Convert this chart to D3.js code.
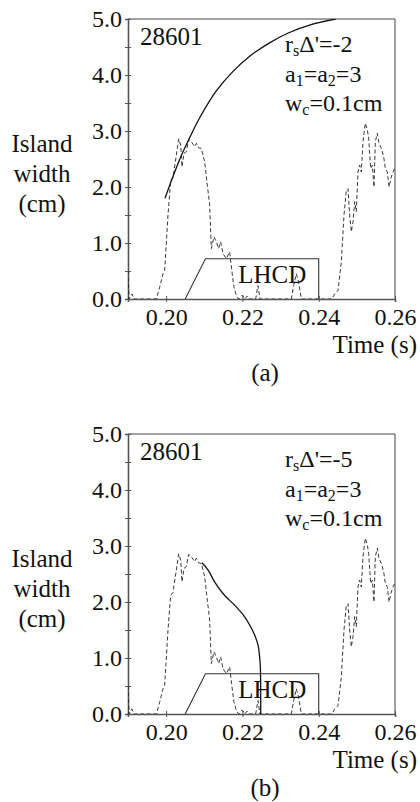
<!DOCTYPE html>
<html>
<head>
<meta charset="utf-8">
<script src="https://cdn.jsdelivr.net/npm/d3@7"></script>
<style>
  html, body { margin: 0; padding: 0; background: #fff; }
  svg { display: block; }
  svg text { font-family: "Liberation Serif", "Times New Roman", Times, "DejaVu Serif", serif !important; fill: #111; }
</style>
</head>
<body>
<svg id="chart" width="420" height="802" font-family="Liberation Serif"></svg>
<script>
// ---- data ----
const measuredTime = [0.1900,0.19026,0.19105,0.19157,0.19743,0.19830,0.19918,0.19961,0.20049,0.20119,0.20180,0.20267,0.20328,0.20381,0.20416,0.20468,0.20529,0.20591,0.20660,0.20748,0.20792,0.20853,0.20923,0.21010,0.21080,0.21141,0.21185,0.21255,0.21316,0.21377,0.21429,0.21491,0.21578,0.21665,0.21727,0.21779,0.21840,0.21901,0.21998,0.22059,0.22120,0.22164,0.22347,0.22408,0.22461,0.23282,0.23343,0.23413,0.23474,0.23544,0.24348,0.24418,0.24506,0.24593,0.24663,0.24724,0.24768,0.24811,0.24855,0.24899,0.24943,0.24986,0.25030,0.25074,0.25117,0.25161,0.25222,0.25275,0.25310,0.25362,0.25406,0.25449,0.25484,0.25537,0.25580,0.25642,0.25703,0.25747,0.25799,0.25843,0.25904,0.25948,0.25991];
const measuredWidth = [0.5,0,0.09,0,0,0.21,0.45,0.51,1.50,2.12,2.17,2.57,2.86,2.75,2.36,2.60,2.63,2.85,2.81,2.72,2.78,2.70,2.69,2.45,2.03,1.68,0.90,1.11,1.02,0.90,1.02,0.81,0.72,0.84,0.48,0.21,0.06,0,0.07,0,0.05,0,0,0.24,0,0,0.24,0.45,0.30,0,0,0.09,0.15,0.66,1.50,1.94,1.97,1.50,1.20,1.38,1.74,1.56,2.27,2.39,2.27,2.81,3.14,3.02,2.87,2.33,2.39,2.00,2.81,2.96,2.78,2.69,2.54,2.33,2.27,2.00,2.18,2.27,2.33];

const modelTimeA = [0.1997,0.2036,0.2063,0.2089,0.2132,0.2176,0.2220,0.2270,0.2320,0.2380,0.2445];
const modelWidthA = [1.80,2.50,2.90,3.25,3.72,4.07,4.34,4.57,4.75,4.90,5.00];

const modelTimeB = [0.2094,0.2110,0.2127,0.2153,0.2180,0.2202,0.2219,0.2232,0.2241,0.2245,0.2247,0.2248];
const modelWidthB = [2.70,2.57,2.36,2.12,1.94,1.77,1.59,1.41,1.23,1.02,0.84,0];

const lhcdTime = [0.2050,0.2103,0.2400,0.2400];
const lhcdLevel = [0,0.72,0.72,0];

const xTicks = [0.20,0.22,0.24,0.26];
const xTickLabels = ["0.20","0.22","0.24","0.26"];
const yTicks = [0,0.5,1,1.5,2,2.5,3,3.5,4,4.5,5];
const yTickLabels = ["0.0","1.0","2.0","3.0","4.0","5.0"];

const panels = [
  {top: 19, label: "(a)", delta: "-2", modelT: modelTimeA, modelW: modelWidthA},
  {top: 434, label: "(b)", delta: "-5", modelT: modelTimeB, modelW: modelWidthB}
];

// ---- drawing ----
const FONT = "Liberation Serif, Times New Roman, DejaVu Serif, serif";
const svg = d3.select("#chart");
const L = 128, R = 395, H = 280;

panels.forEach((p, i) => {
  const g = svg.append("g").attr("transform", `translate(0,${p.top})`);
  const x = d3.scaleLinear().domain([0.19, 0.26]).range([L, R]);
  const y = d3.scaleLinear().domain([0, 5]).range([H, 0]);

  const clipId = "clip" + i;
  g.append("clipPath").attr("id", clipId)
    .append("rect").attr("x", L).attr("y", 0).attr("width", R - L).attr("height", H);

  // frame (top & right)
  g.append("path")
    .attr("d", `M${L},0H${R}V${H}`)
    .attr("fill", "none").attr("stroke", "#444").attr("stroke-width", 1);

  // Y axis
  const ya = g.append("g").attr("transform", `translate(${L},0)`)
    .call(d3.axisLeft(y).tickValues(yTicks).tickSize(3).tickPadding(3)
      .tickFormat(d => Number.isInteger(d) ? yTickLabels[d] : ""));
  ya.attr("font-family", FONT);
  ya.select(".domain").attr("stroke", "#555").attr("stroke-width", 1.6);
  ya.selectAll(".tick line").attr("x1", 3).attr("x2", -3).attr("stroke", "#555");
  ya.selectAll(".tick text").attr("font-size", 24).attr("fill", "#111").attr("dy", "0.3em");

  // X axis
  const xa = g.append("g").attr("transform", `translate(0,${H})`)
    .call(d3.axisBottom(x).tickValues(xTicks).tickSize(3).tickPadding(6)
      .tickFormat((d, k) => xTickLabels[k]));
  xa.attr("font-family", FONT);
  xa.select(".domain").attr("stroke", "#555").attr("stroke-width", 1.6);
  xa.selectAll(".tick line").attr("y1", -3).attr("y2", 3).attr("stroke", "#555");
  xa.selectAll(".tick text").attr("font-size", 24).attr("fill", "#111");

  const plot = g.append("g").attr("clip-path", `url(#${clipId})`);

  // LHCD waveform
  const lhcd = lhcdTime.map((t, k) => [t, lhcdLevel[k]]);
  plot.append("path").datum(lhcd)
    .attr("d", d3.line().x(d => x(d[0])).y(d => y(d[1])))
    .attr("fill", "none").attr("stroke", "#333").attr("stroke-width", 1.1);

  // measured (dashed)
  const meas = measuredTime.map((t, k) => [t, measuredWidth[k]]);
  plot.append("path").datum(meas)
    .attr("d", d3.line().x(d => x(d[0])).y(d => y(d[1])))
    .attr("fill", "none").attr("stroke", "#222").attr("stroke-width", 0.9)
    .attr("stroke-dasharray", "4,2.5");

  // model (solid)
  const mod = p.modelT.map((t, k) => [t, p.modelW[k]]);
  plot.append("path").datum(mod)
    .attr("d", d3.line().curve(d3.curveCatmullRom.alpha(0.5)).x(d => x(d[0])).y(d => y(d[1])))
    .attr("fill", "none").attr("stroke", "#111").attr("stroke-width", 1.3);

  // texts inside
  const fs = 25, afs = 24, sub = 16;
  const txt = (size) => g.append("text").attr("font-family", FONT).attr("font-size", size || fs);
  txt().attr("x", 140).attr("y", 26).text("28601");
  txt().attr("x", x(0.2278)).attr("text-anchor", "middle").attr("y", 264).text("LHCD");

  const t1 = txt(afs).attr("x", 285).attr("y", 33);
  t1.append("tspan").text("r");
  t1.append("tspan").attr("font-size", sub).attr("dy", 4).text("s");
  t1.append("tspan").attr("dy", -4).text("Δ'=" + p.delta);

  const t2 = txt(afs).attr("x", 285).attr("y", 63);
  t2.append("tspan").text("a");
  t2.append("tspan").attr("font-size", sub).attr("dy", 4).text("1");
  t2.append("tspan").attr("dy", -4).text("=a");
  t2.append("tspan").attr("font-size", sub).attr("dy", 4).text("2");
  t2.append("tspan").attr("dy", -4).text("=3");

  const t3 = txt(afs).attr("x", 285).attr("y", 92);
  t3.append("tspan").text("w");
  t3.append("tspan").attr("font-size", sub).attr("dy", 4).text("c");
  t3.append("tspan").attr("dy", -4).text("=0.1cm");

  // y label
  ["Island", "width", "(cm)"].forEach((s, k) => {
    txt().attr("x", 42).attr("y", 133 + k * 30).attr("text-anchor", "middle").text(s);
  });

  // x label
  txt().attr("x", 417).attr("y", 334).attr("text-anchor", "end").text("Time (s)");

  // panel label
  txt().attr("x", 265).attr("y", 362).attr("text-anchor", "middle").text(p.label);
});
</script>
</body>
</html>
